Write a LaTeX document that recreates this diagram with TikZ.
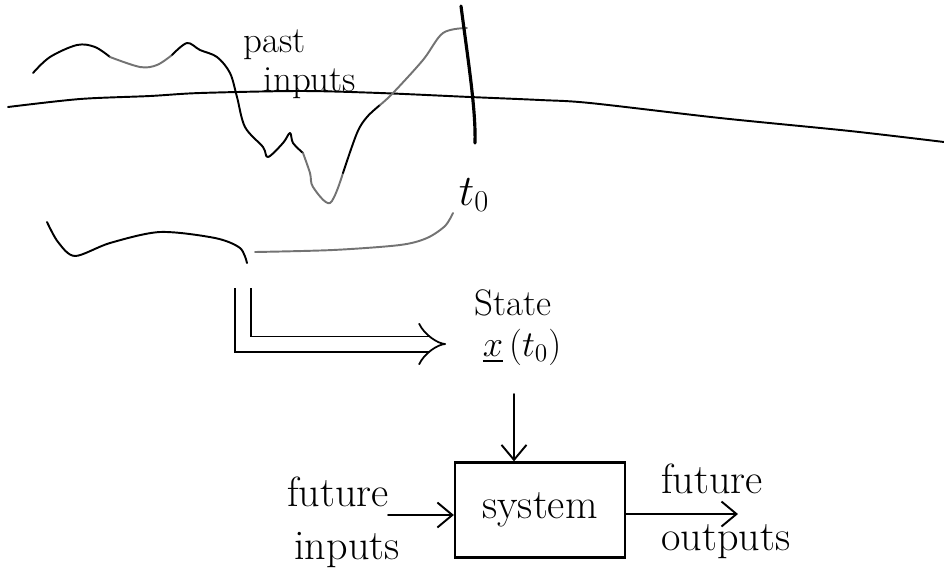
\documentclass[tikz,border=0pt]{standalone}
\usepackage{amsmath}
\usepackage{amssymb}
\usetikzlibrary{arrows.meta}

\tikzset{
  hand/.style={font=\fontsize{24}{28}\selectfont},
  handsm/.style={font=\fontsize{21}{25}\selectfont},
  wire/.style={line width=1.1pt, line cap=round, line join=round},
  penc/.style={wire, black!55},
  arr/.style={wire, -{Straight Barb[length=0.3cm,width=0.5cm]}},
  dblarrow/.style={double, line width=1pt, double distance=0.27cm,
    -{Implies[length=0.55cm,width=1.1cm]}},
}

\begin{document}
\begin{tikzpicture}[x=0.02cm,y=-0.02cm]
  \useasboundingbox (0,0) rectangle (944,576);

  % time axis
  \draw[wire] plot[smooth] coordinates {(8,107) (80,99) (150,96) (200,93) (300,91)
    (380,93) (470,97) (540,100) (590,103) (720,118) (850,131) (944,142)};

  % input signal up to t0
  \draw[wire] plot[smooth,tension=0.55] coordinates {(33,73) (50,57) (77,45) (95,47) (110,57)};
  \draw[penc] plot[smooth,tension=0.55] coordinates {(110,57) (140,67) (157,65) (172,55)};
  \draw[wire] plot[smooth,tension=0.55] coordinates {(172,55) (187,43) (200,50) (217,57)
    (230,73) (237,97) (245,127) (263,147) (268,157) (283,143) (290,133) (293,143) (303,153)};
  \draw[penc] plot[smooth,tension=0.55] coordinates {(303,153) (310,173) (313,187) (330,203) (343,173)};
  \draw[wire] plot[smooth,tension=0.55] coordinates {(343,173) (357,133) (367,117) (380,105)};
  \draw[penc] plot[smooth,tension=0.55] coordinates {(380,105) (393,93) (423,60) (443,33) (467,28)};

  % present time marker
  \draw[wire, line width=1.8pt] (461,6) .. controls (468,60) and (476,110) .. (475,143);
  \node[hand, anchor=base] (tzero) at (474,205) {$t_0$};

  \node[handsm, anchor=base] (past) at (275,52) {past};
  \node[handsm, anchor=base] (inp) at (310,91) {inputs};

  % brace under the past
  \coordinate (cusp) at (247,263);
  \draw[wire] plot[smooth] coordinates {(47,222) (58,242) (75,256) (110,243) (160,232)
    (215,238) (240,248) (cusp)};
  \draw[penc] plot[smooth] coordinates {(255,252) (333,250) (400,245) (427,238) (445,226) (453,213)};

  % state at t0
  \node[handsm, anchor=base] (state) at (513,315) {State};
  \node[handsm, anchor=base] (xt) at (522,356) {$\underline{x}\,(t_0)$};

  \coordinate (tail) at (243,288);
  \coordinate (xin) at (446,344);
  \draw[dblarrow] (tail) |- (xin);

  % system block
  \node[hand, draw, line width=1.3pt, minimum width=3.4cm, minimum height=1.9cm] (sys) at (540,510) {system};

  \coordinate (down) at (514,394);
  \draw[arr] (down) -- (sys.north -| down);

  \node[hand, anchor=base] (fin) at (338,506) {future};
  \node[hand, anchor=base] (fin2) at (347,559) {inputs};
  \coordinate (uin) at (388,515);
  \draw[arr] (uin) -- (uin -| sys.west);

  \node[hand, anchor=base] (fout) at (712,493) {future};
  \node[hand, anchor=base] (fout2) at (726,550) {outputs};
  \coordinate (yout) at (738,514);
  \draw[arr] (sys.east |- yout) -- (yout);
\end{tikzpicture}
\end{document}
